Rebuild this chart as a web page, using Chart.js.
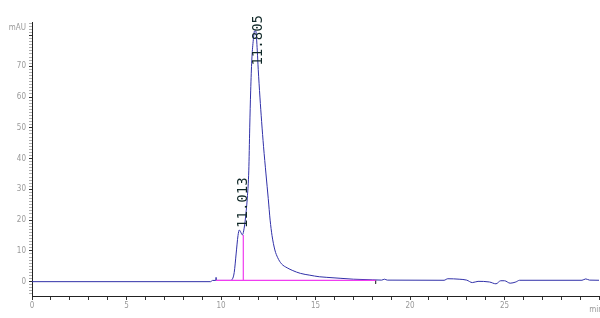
<!DOCTYPE html>
<html>
<head>
<meta charset="utf-8">
<script src="https://cdn.jsdelivr.net/npm/chart.js@4.4.1/dist/chart.umd.min.js"></script>
<style>
  html, body { margin: 0; padding: 0; background: #fff; }
  #wrap { width: 600px; height: 318px; }
</style>
</head>
<body>
<div id="wrap"><canvas id="chromChart"></canvas></div>
<script>
// retention time (min) and detector signal (mAU)
const times = [0, 9.45, 9.55, 9.72, 9.74, 9.76, 10.5, 10.6, 10.7, 10.8, 10.9, 10.97, 11.05, 11.13,
  11.2, 11.3, 11.4, 11.47, 11.52, 11.57, 11.63, 11.7, 11.78, 11.84, 11.92, 11.97, 12.06, 12.15,
  12.25, 12.38, 12.5, 12.6, 12.7, 12.85, 13.0, 13.2, 13.5, 13.8, 14.2, 14.7, 15.2, 15.6, 16.3,
  17.0, 18.0, 18.5, 18.65, 18.8, 21.8, 22.0, 22.6, 23.0, 23.3, 23.6, 24.2, 24.55, 24.8, 25.0,
  25.3, 25.6, 25.8, 29.1, 29.3, 29.5, 30];
const signal = [0, 0, 0.4, 0.4, 1.4, 0.4, 0.4, 0.8, 3, 9, 15, 16.8, 16, 15.2,
  16.5, 21, 28, 36, 50, 62, 72, 78, 81.5, 81.5, 75, 69, 60, 52,
  44, 35, 27, 20, 15, 10.3, 7.8, 5.8, 4.5, 3.6, 2.7, 2.1, 1.6, 1.4, 1.1,
  0.8, 0.6, 0.5, 0.8, 0.5, 0.45, 0.95, 0.8, 0.5, -0.3, 0.1, -0.1, -0.7, 0.3, 0.3,
  -0.5, -0.1, 0.45, 0.45, 0.9, 0.5, 0.45];

// integration baseline and peak split line
const baseTimes = [9.74, 18.18];
const baseValues = [0.45, 0.45];
const splitTimes = [11.18, 11.18];
const splitValues = [0.45, 15.2];
const endMarkTimes = [18.18, 18.18];
const endMarkValues = [0.45, -0.7];

// peak annotations
const peakTimes = [11.013, 11.805];
const peakHeights = [16.8, 81.5];
const peakLabels = ['11.013', '11.805'];

const xTickLabels = [0, 5, 10, 15, 20, 25];
const yTickLabels = [0, 10, 20, 30, 40, 50, 60, 70];

function pts(xs, ys) {
    return xs.map((x, i) => ({ x: x, y: ys[i] }));
}

const tickFont = { family: "'Liberation Sans Narrow', 'DejaVu Sans Condensed', sans-serif", size: 8 };

// unit labels and rotated retention time labels
const chromPlugin = {
    id: 'chromLabels',
    afterDatasetsDraw(chart) {
        const c = chart.ctx;
        const xs = chart.scales.x;
        const ys = chart.scales.y;
        c.save();
        c.fillStyle = '#999';
        c.font = "8px 'Liberation Sans Narrow', 'DejaVu Sans Condensed', sans-serif";
        c.textAlign = 'right';
        c.textBaseline = 'middle';
        c.fillText('mAU', 26, 28);
        c.textAlign = 'center';
        c.textBaseline = 'top';
        c.fillText('min', xs.getPixelForValue(30) - 3, 306);

        c.font = "14px 'DejaVu Sans Mono', monospace";
        c.fillStyle = '#102828';
        c.textAlign = 'left';
        c.textBaseline = 'middle';
        peakTimes.forEach((t, i) => {
            const w = c.measureText(peakLabels[i]).width;
            const px = xs.getPixelForValue(t) + 3;
            let py = ys.getPixelForValue(peakHeights[i]) - 2;
            py = Math.max(py, 15 + w);
            c.save();
            c.translate(px, py);
            c.rotate(-Math.PI / 2);
            c.fillText(peakLabels[i], 0, 0);
            c.restore();
        });
        c.restore();
    }
};

document.addEventListener("DOMContentLoaded", function () {
    const ctx = document.getElementById("chromChart").getContext("2d");

    new Chart(ctx, {
        type: 'line',
        data: {
            datasets: [{
                data: pts(baseTimes, baseValues),
                borderColor: '#f03cf0',
                borderWidth: 1.2,
                order: 0
            }, {
                data: pts(splitTimes, splitValues),
                borderColor: '#f03cf0',
                borderWidth: 1.2,
                order: 0
            }, {
                data: pts(endMarkTimes, endMarkValues),
                borderColor: '#444',
                borderWidth: 1,
                order: 0
            }, {
                data: pts(times, signal),
                borderColor: '#3030a8',
                borderWidth: 1,
                cubicInterpolationMode: 'monotone',
                order: 1
            }]
        },
        options: {
            responsive: true,
            maintainAspectRatio: false,
            animation: false,
            layout: { padding: { top: 22, right: 0, left: 0, bottom: 0 } },
            elements: { point: { radius: 0 } },
            plugins: { legend: { display: false }, tooltip: { enabled: false } },
            scales: {
                x: {
                    type: 'linear',
                    min: 0,
                    max: 30,
                    afterFit: (s) => { s.height = 22; },
                    border: { color: '#222', width: 1 },
                    grid: { drawOnChartArea: false, tickLength: 4, color: '#333' },
                    ticks: {
                        stepSize: 1,
                        autoSkip: false,
                        maxRotation: 0,
                        padding: 1,
                        color: '#999',
                        font: tickFont,
                        callback: (v) => xTickLabels.includes(v) ? String(v) : ''
                    }
                },
                y: {
                    min: -4.66,
                    max: 84.4,
                    afterFit: (s) => { s.width = 32; },
                    border: { color: '#222', width: 1 },
                    grid: {
                        drawOnChartArea: false,
                        tickLength: 3,
                        color: (c) => (c.tick && c.tick.value % 10 === 0) ? '#333' : '#b0b0b0'
                    },
                    ticks: {
                        stepSize: 1,
                        includeBounds: false,
                        autoSkip: false,
                        padding: 3,
                        color: '#999',
                        font: tickFont,
                        callback: (v) => yTickLabels.includes(v) ? String(v) : ''
                    }
                }
            }
        },
        plugins: [chromPlugin]
    });
});
</script>
</body>
</html>
